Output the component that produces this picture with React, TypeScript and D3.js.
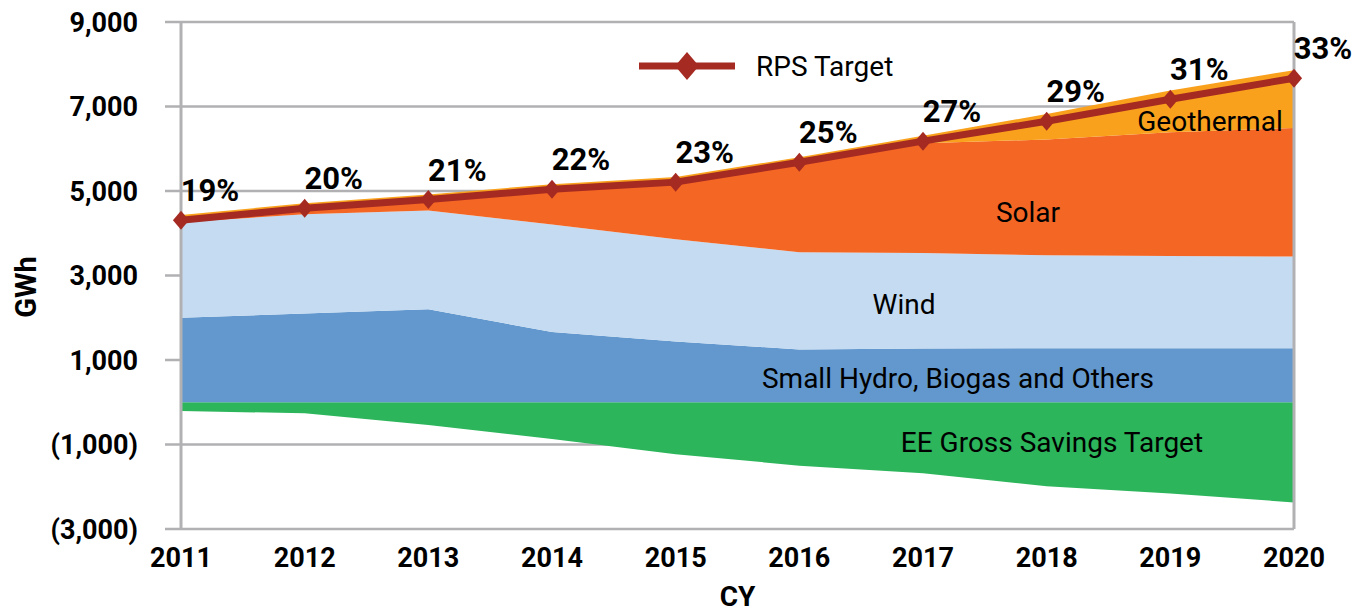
import React from 'react';
import * as d3 from 'd3';

const width = 1372;
const height = 614;
const margin = { left: 181, right: 78, top: 22, bottom: 85 };

const years = [2011, 2012, 2013, 2014, 2015, 2016, 2017, 2018, 2019, 2020];
// GWh by resource (EE savings are shown below zero)
const eeSavings = [-210, -260, -540, -870, -1230, -1500, -1680, -1990, -2160, -2370];
const smallHydro = [2000, 2100, 2200, 1660, 1440, 1250, 1270, 1280, 1280, 1280];
const wind = [2260, 2350, 2340, 2550, 2420, 2300, 2260, 2200, 2180, 2170];
const solar = [40, 110, 240, 810, 1330, 2100, 2600, 2740, 2930, 3040];
const geothermal = [130, 150, 140, 140, 140, 150, 180, 600, 990, 1370];
const rpsTarget = [4310, 4590, 4800, 5040, 5210, 5680, 6180, 6650, 7170, 7670];
const rpsPercent = ['19%', '20%', '21%', '22%', '23%', '25%', '27%', '29%', '31%', '33%'];
const yTicks = [-3000, -1000, 1000, 3000, 5000, 7000, 9000];

const keys = ['ee', 'hydro', 'wind', 'solar', 'geo'];
const colors: Record<string, string> = {
  ee: '#2cb55b',
  hydro: '#6398ce',
  wind: '#c5dbf1',
  solar: '#f36624',
  geo: '#f9a11c',
};
const red = '#a52a22';
const grid = '#b1b1b4';
const font = 'Roboto, "DejaVu Sans", sans-serif';

const rows = years.map((year, i) => ({
  year,
  ee: eeSavings[i],
  hydro: smallHydro[i],
  wind: wind[i],
  solar: solar[i],
  geo: geothermal[i],
}));

const fmtTick = (v: number) => {
  const s = d3.format(',')(Math.abs(v));
  return v < 0 ? `(${s})` : s;
};

export default function App() {
  const x = d3
    .scaleLinear()
    .domain([2011, 2020])
    .range([margin.left, width - margin.right]);
  const y = d3
    .scaleLinear()
    .domain([-3000, 9000])
    .range([height - margin.bottom, margin.top]);

  const series = d3
    .stack<any>()
    .keys(keys)
    .offset(d3.stackOffsetDiverging)(rows);

  const area = d3
    .area<any>()
    .x((d) => x(d.data.year))
    .y0((d) => y(d[0]))
    .y1((d) => y(d[1]));

  const line = d3
    .line<number>()
    .x((d, i) => x(years[i]))
    .y((d) => y(d));

  const diamond = (cx: number, cy: number, r = 9.5) =>
    `M${cx},${cy - r}L${cx + r * 0.85},${cy}L${cx},${cy + r}L${cx - r * 0.85},${cy}Z`;

  const x0 = x.range()[0];
  const x1 = x.range()[1];

  return (
    <svg
      width={width}
      height={height}
      style={{ position: 'absolute', left: 0, top: 0, background: '#fff' }}
      fontFamily={font}
    >
      {/* gridlines + ticks */}
      {yTicks.map((t) => (
        <line key={t} x1={x0 - 16} x2={x1} y1={y(t)} y2={y(t)} stroke={grid} strokeWidth={2.5} />
      ))}
      {yTicks.map((t) => (
        <text
          key={'l' + t}
          x={138}
          y={y(t)}
          dy="0.36em"
          textAnchor="end"
          fontSize={27}
          fontWeight="bold"
        >
          {fmtTick(t)}
        </text>
      ))}

      {series.map((s) => (
        <path key={s.key} d={area(s) || ''} fill={colors[s.key]} />
      ))}

      {/* axis frame */}
      <line x1={x0} x2={x0} y1={y(9000)} y2={y(-3000)} stroke={grid} strokeWidth={3} />
      <line x1={x1} x2={x1} y1={y(9000)} y2={y(-3000)} stroke={grid} strokeWidth={3} />

      {/* RPS target line */}
      <path d={line(rpsTarget) || ''} fill="none" stroke={red} strokeWidth={7} />
      {rpsTarget.map((v, i) => (
        <path key={i} d={diamond(x(years[i]), y(v))} fill={red} />
      ))}
      {rpsTarget.map((v, i) => (
        <text
          key={'p' + i}
          x={x(years[i]) + 29}
          y={y(v) - 30}
          dy="0.36em"
          textAnchor="middle"
          fontSize={31}
          fontWeight="bold"
        >
          {rpsPercent[i]}
        </text>
      ))}

      {/* area labels */}
      <g fontSize={28}>
        <text x={1210} y={121} dy="0.36em" textAnchor="middle">Geothermal</text>
        <text x={1028} y={212} dy="0.36em" textAnchor="middle">Solar</text>
        <text x={904} y={304} dy="0.36em" textAnchor="middle">Wind</text>
        <text x={958} y={378} dy="0.36em" textAnchor="middle">Small Hydro, Biogas and Others</text>
        <text x={1052} y={442} dy="0.36em" textAnchor="middle">EE Gross Savings Target</text>
      </g>

      {/* legend */}
      <line x1={639} x2={735} y1={66} y2={66} stroke={red} strokeWidth={7} />
      <path d={diamond(687, 66, 14)} fill={red} />
      <text x={756} y={66} dy="0.36em" fontSize={28}>RPS Target</text>

      {/* x labels */}
      {years.map((yr) => (
        <text
          key={yr}
          x={x(yr)}
          y={557}
          dy="0.36em"
          textAnchor="middle"
          fontSize={27}
          fontWeight="bold"
        >
          {yr}
        </text>
      ))}
      <text x={(x0 + x1) / 2} y={606} textAnchor="middle" fontSize={28} fontWeight="bold">
        CY
      </text>
      <text
        transform="translate(26,287) rotate(-90)"
        dy="0.36em"
        textAnchor="middle"
        fontSize={29}
        fontWeight="bold"
      >
        GWh
      </text>
    </svg>
  );
}
